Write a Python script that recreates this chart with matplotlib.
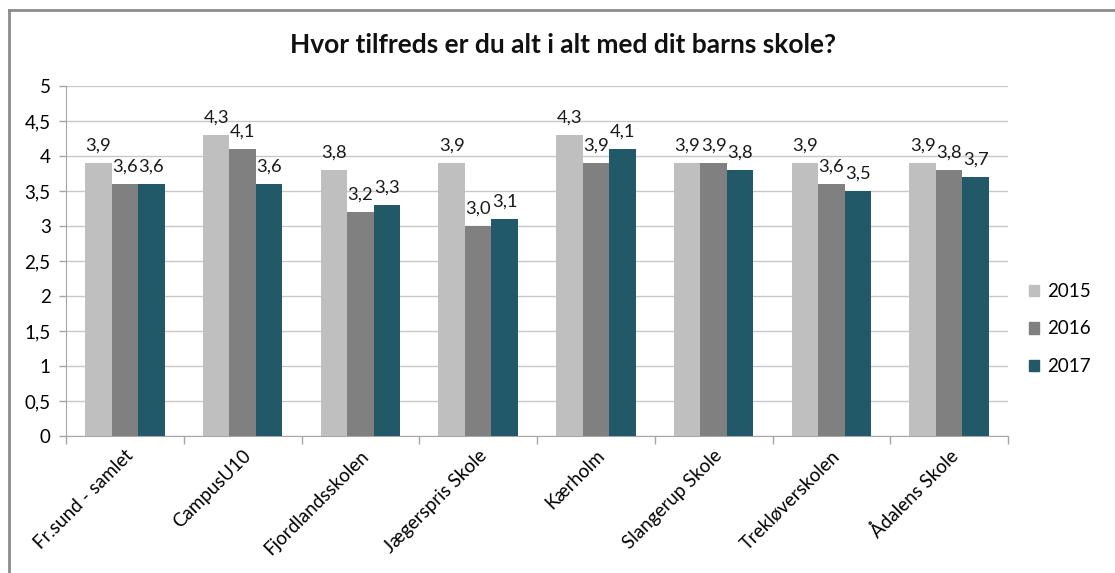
import matplotlib
matplotlib.use("Agg")
import matplotlib.pyplot as plt
import numpy as np
from matplotlib.lines import Line2D

categories = ["Fr.sund - samlet", "CampusU10", "Fjordlandsskolen", "Jægerspris Skole",
              "Kærholm", "Slangerup Skole", "Trekløverskolen", "Ådalens Skole"]
years = ["2015", "2016", "2017"]
v2015 = [3.9, 4.3, 3.8, 3.9, 4.3, 3.9, 3.9, 3.9]
v2016 = [3.6, 4.1, 3.2, 3.0, 3.9, 3.9, 3.6, 3.8]
v2017 = [3.6, 3.6, 3.3, 3.1, 4.1, 3.8, 3.5, 3.7]
yticks = [0, 0.5, 1, 1.5, 2, 2.5, 3, 3.5, 4, 4.5, 5]
title = "Hvor tilfreds er du alt i alt med dit barns skole?"

colors = ["#BFBFBF", "#808080", "#215968"]
series = [v2015, v2016, v2017]

plt.rcParams['font.family'] = ['Lato', 'DejaVu Sans']
FS = 13.5

fig = plt.figure(figsize=(11.15, 5.73), dpi=100)
ax = fig.add_axes([66/1115, 1-436/573, (1008-66)/1115, (436-86)/573])

x = np.arange(len(categories))
w = 0.225
for i, (vals, c, lab) in enumerate(zip(series, colors, years)):
    xs = x + (i - 1) * w
    ax.bar(xs, vals, width=w, color=c, label=lab, zorder=3)
    for xi, v in zip(xs, vals):
        ax.text(xi, v + 0.13, f"{v:.1f}".replace(".", ","), ha="center", va="bottom",
                fontsize=13.2, color="#1a1a1a", zorder=4)

ax.set_xlim(-0.5, len(categories) - 0.5)
ax.set_ylim(0, 5)
ax.set_yticks(yticks)
ax.set_yticklabels([f"{t:g}".replace(".", ",") for t in yticks], fontsize=FS)
ax.yaxis.grid(True, color="#C8C8C8", linewidth=1, zorder=0)
ax.set_axisbelow(True)

ax.set_xticks(np.arange(len(categories) + 1) - 0.5, minor=False)
ax.set_xticklabels([])
ax.tick_params(axis="x", length=6, color="#A6A6A6", width=1)
ax.set_xticks(x, minor=True)
ax.set_xticklabels(categories, minor=True, rotation=45, ha="right",
                   rotation_mode="anchor", fontsize=FS)
ax.tick_params(axis="x", which="minor", length=0, pad=8)
ax.tick_params(axis="y", length=5, color="#A6A6A6", width=1, pad=6)

for s in ["top", "right"]:
    ax.spines[s].set_visible(False)
ax.spines["left"].set_color("#A6A6A6")
ax.spines["bottom"].set_color("#A6A6A6")

fig.text(563/1115, 1-45/573, title, ha="center", va="center", fontsize=19,
         fontweight="bold", color="#111111")

handles = [plt.Rectangle((0, 0), 1, 1, color=c) for c in colors]
leg = fig.legend(handles, years, loc="upper left", bbox_to_anchor=(1012/1115, 1-266/573),
                 frameon=False, fontsize=FS, handlelength=0.55, handleheight=0.55,
                 labelspacing=1.1, handletextpad=0.4)

# outer border (top and left visible)
fig.add_artist(Line2D([9/1115, 1.0], [1-10/573, 1-10/573], color="#8C8C8C", linewidth=2,
                      transform=fig.transFigure))
fig.add_artist(Line2D([9/1115, 9/1115], [1-10/573, 0.0], color="#8C8C8C", linewidth=2,
                      transform=fig.transFigure))

fig.savefig("out.png", dpi=100)
